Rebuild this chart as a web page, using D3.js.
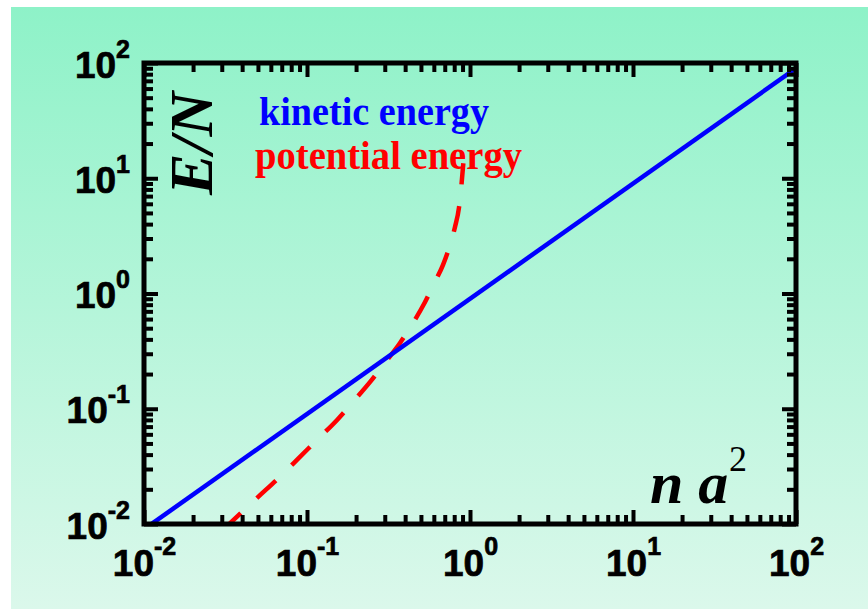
<!DOCTYPE html>
<html><head><meta charset="utf-8">
<script src="https://cdn.jsdelivr.net/npm/d3@7"></script>
<style>html,body{margin:0;padding:0;background:#fff;} svg{display:block}</style>
</head><body>
<svg id="c" width="868" height="609"></svg>
<script>
// ---- data ----
const decadeTicks = [0.01, 0.1, 1, 10, 100];
const minorMultipliers = [2, 3, 4, 5, 6, 7, 8, 9];
const kineticX = [0.01, 100];
const kineticY = [0.009, 90];
const potentialX = [0.030, 0.05, 0.067, 0.088, 0.115, 0.153, 0.2, 0.244, 0.30, 0.372, 0.447, 0.522, 0.60, 0.683, 0.754, 0.809, 0.857, 0.881, 0.91];
const potentialY = [0.0087, 0.0171, 0.0251, 0.0367, 0.0536, 0.080, 0.123, 0.171, 0.249, 0.372, 0.555, 0.81, 1.21, 1.77, 2.64, 3.78, 5.63, 8.0, 13.5];
const seriesNames = ["kinetic energy", "potential energy"];
const seriesColors = ["#0000ff", "#ff0000"];
const yTitle = "E/N";
const xTitle = ["n a", "2"];

// ---- layout ----
const W = 868, H = 609;
const L = 144, R = 796, T = 63, B = 524;
const svg = d3.select("#c");

const defs = svg.append("defs");
const grad = defs.append("linearGradient").attr("id", "bg").attr("x1", 0).attr("y1", 0).attr("x2", 0).attr("y2", 1);
grad.append("stop").attr("offset", "0%").attr("stop-color", "#8ef2c8");
grad.append("stop").attr("offset", "100%").attr("stop-color", "#dbf8eb");
defs.append("clipPath").attr("id", "clip").append("rect")
  .attr("x", L).attr("y", T).attr("width", R - L).attr("height", B - T);

svg.append("rect").attr("x", 11).attr("y", 7).attr("width", W - 11).attr("height", H - 7).attr("fill", "url(#bg)");

const x = d3.scaleLog().domain([0.01, 100]).range([L, R]);
const y = d3.scaleLog().domain([0.01, 100]).range([B, T]);

const minors = [];
decadeTicks.slice(0, -1).forEach(d => minorMultipliers.forEach(m => minors.push(d * m)));

// ---- lines ----
const line = d3.line().x(d => x(d[0])).y(d => y(d[1]));
const gl = svg.append("g").attr("clip-path", "url(#clip)");
gl.append("path").datum(potentialX.map((v, i) => [v, potentialY[i]]))
  .attr("d", line.curve(d3.curveMonotoneX)).attr("fill", "none")
  .attr("stroke", seriesColors[1]).attr("stroke-width", 4.5).attr("stroke-dasharray", "26,22");
gl.append("path").datum(kineticX.map((v, i) => [v, kineticY[i]]))
  .attr("d", d3.line().x(d => x(d[0])).y(d => y(d[1]))).attr("fill", "none")
  .attr("stroke", seriesColors[0]).attr("stroke-width", 4.5);

// ---- axes ----
function styleTicks(g) {
  g.select(".domain").remove();
  g.selectAll(".tick line").attr("stroke", "#000").attr("stroke-width", 4);
}
const axes = [
  [d3.axisBottom(x), `translate(0,${B})`],
  [d3.axisTop(x), `translate(0,${T})`],
  [d3.axisLeft(y), `translate(${L},0)`],
  [d3.axisRight(y), `translate(${R},0)`]
];
axes.forEach(([ax, tr]) => {
  svg.append("g").attr("transform", tr)
    .call(ax.tickValues(minors).tickSizeInner(-9).tickSizeOuter(0).tickFormat(""))
    .call(styleTicks);
});
axes.forEach(([ax, tr]) => {
  svg.append("g").attr("transform", tr)
    .call(ax.tickValues(decadeTicks).tickSizeInner(-14).tickSizeOuter(0).tickFormat(""))
    .call(styleTicks);
});

function labels(g, isX) {
  g.attr("font-family", "'Liberation Sans', Arial, sans-serif").attr("font-size", 37).attr("font-weight", "bold");
  g.selectAll(".tick text").each(function (d) {
    const t = d3.select(this).text(null).attr("fill", "#000")
      .attr("stroke", "#000").attr("stroke-width", 0.7);
    if (isX) t.attr("y", 52).attr("dy", 0).attr("text-anchor", "middle");
    else t.attr("x", -14).attr("dy", 14).attr("text-anchor", "end");
    t.append("tspan").text("10");
    t.append("tspan").attr("font-size", 25).attr("dy", isX ? -21 : -20).text(String(Math.round(Math.log10(d))));
  });
}
const bl = svg.append("g").attr("transform", `translate(0,${B})`)
  .call(d3.axisBottom(x).tickValues(decadeTicks).tickSize(0).tickFormat(d => d));
bl.select(".domain").remove();
labels(bl, true);
const ll = svg.append("g").attr("transform", `translate(${L},0)`)
  .call(d3.axisLeft(y).tickValues(decadeTicks).tickSize(0).tickFormat(d => d));
ll.select(".domain").remove();
labels(ll, false);

// frame
svg.append("rect").attr("x", L).attr("y", T).attr("width", R - L).attr("height", B - T)
  .attr("fill", "none").attr("stroke", "#000").attr("stroke-width", 5);

// ---- titles ----
svg.append("text").attr("transform", "translate(212,195) rotate(-90)")
  .attr("font-family", "'Liberation Serif', 'Times New Roman', serif").attr("font-style", "italic")
  .attr("font-weight", "bold").attr("font-size", 62).attr("fill", "#000").text(yTitle);

svg.append("text").attr("x", 650).attr("y", 503)
  .attr("font-family", "'Liberation Serif', 'Times New Roman', serif").attr("fill", "#000")
  .attr("font-style", "italic").attr("font-weight", "bold").attr("font-size", 60).text(xTitle[0]);
svg.append("text").attr("x", 729).attr("y", 471)
  .attr("font-family", "'Liberation Serif', 'Times New Roman', serif").attr("fill", "#000")
  .attr("font-size", 36).text(xTitle[1]);

// ---- legend ----
const legendPos = [[259, 125, 230], [255, 169, 267]];
seriesNames.forEach((n, i) => {
  svg.append("text").attr("x", legendPos[i][0]).attr("y", legendPos[i][1])
    .attr("font-family", "'Liberation Serif', 'Times New Roman', serif").attr("font-weight", "bold")
    .attr("font-size", 40).attr("fill", seriesColors[i])
    .attr("textLength", legendPos[i][2]).attr("lengthAdjust", "spacingAndGlyphs").text(n);
});
</script>
</body></html>
